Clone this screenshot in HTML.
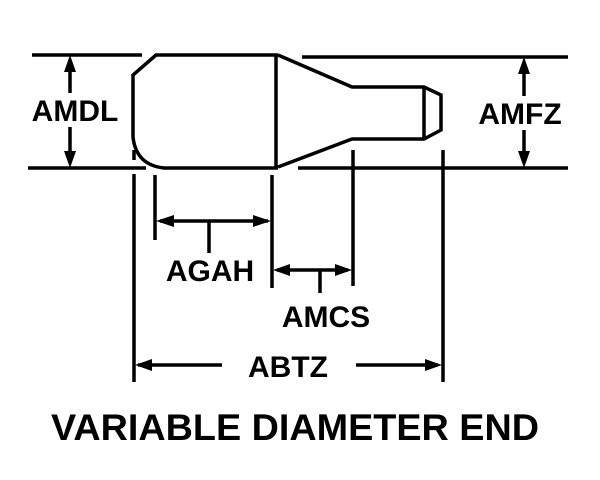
<!DOCTYPE html>
<html><head><style>body{margin:0;background:#fff}svg{display:block}</style></head><body>
<svg width="600" height="480" viewBox="0 0 600 480" xmlns="http://www.w3.org/2000/svg">
<g stroke="#000" stroke-width="3.5" fill="none">
<line x1="32" y1="55" x2="142" y2="55"/>
<line x1="302" y1="57" x2="568" y2="57"/>
<line x1="28" y1="168" x2="146" y2="168"/>
<line x1="298" y1="168" x2="568" y2="168"/>
<path d="M278,55 L156,55 L133,75 L133,137 Q136,165 164,168 L278,168"/>
<line x1="276" y1="55" x2="276" y2="168"/>
<path d="M278,55 L352,87 L424,87 L441,95 L441,130 L424,139 L352,139 L278,167"/>
<line x1="424" y1="87" x2="424" y2="139"/>
<line x1="70" y1="62" x2="70" y2="93"/>
<line x1="70" y1="127" x2="70" y2="160"/>
<line x1="524" y1="64" x2="524" y2="96"/>
<line x1="524" y1="130" x2="524" y2="160"/>
<line x1="134" y1="150" x2="134" y2="160"/>
<line x1="134" y1="174" x2="134" y2="382"/>
<line x1="155" y1="175" x2="155" y2="240"/>
<line x1="272" y1="175" x2="272" y2="288"/>
<line x1="353" y1="150" x2="353" y2="286"/>
<line x1="443" y1="150" x2="443" y2="382"/>
<line x1="160" y1="221" x2="268" y2="221"/>
<line x1="209" y1="221" x2="209" y2="253"/>
<line x1="277" y1="270" x2="348" y2="270"/>
<line x1="320" y1="270" x2="320" y2="293"/>
<line x1="138" y1="365" x2="222" y2="365"/>
<line x1="356" y1="365" x2="438" y2="365"/>
</g>
<g fill="#000">
<polygon points="70,55 64,72 76,72"/>
<polygon points="70,168 64,151 76,151"/>
<polygon points="524,57 518,74 530,74"/>
<polygon points="524,168 518,151 530,151"/>
<polygon points="156,221 174,215 174,227"/>
<polygon points="271,221 253,215 253,227"/>
<polygon points="273,270 290,264 290,276"/>
<polygon points="352,270 335,264 335,276"/>
<polygon points="135,365 152,359 152,371"/>
<polygon points="442,365 425,359 425,371"/>
</g>
<g font-family="Liberation Sans, Arial, sans-serif" font-size="30" font-weight="bold" fill="#000" text-anchor="middle">
<text x="75" y="121">AMDL</text>
<text x="520" y="124">AMFZ</text>
<text x="210" y="281">AGAH</text>
<text x="326" y="327">AMCS</text>
<text x="288" y="377">ABTZ</text>
<text x="295" y="440" font-size="37" textLength="488" lengthAdjust="spacingAndGlyphs">VARIABLE DIAMETER END</text>
</g>
</svg>
</body></html>
